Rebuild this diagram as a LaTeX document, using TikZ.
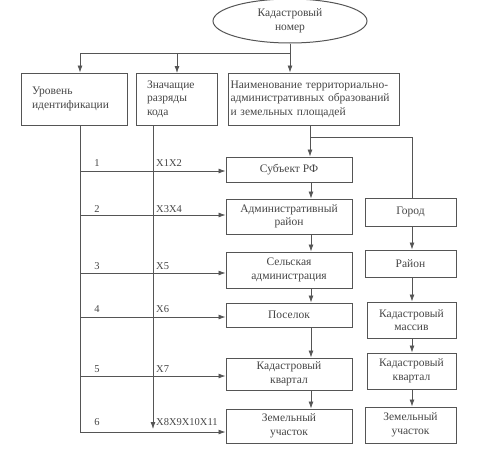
\documentclass[tikz,border=0pt]{standalone}
\usepackage{fontspec}
\setmainfont{Liberation Serif}
\usetikzlibrary{arrows.meta,shapes.geometric}
\definecolor{lc}{RGB}{85,85,85}
\definecolor{tc}{RGB}{70,70,70}
\begin{document}
\begin{tikzpicture}[x=1pt,y=-1pt,
  box/.style={draw=lc, line width=1pt, fill=white, text=tc, inner sep=0pt, align=center,
    font=\fontsize{11.5}{13.5}\selectfont},
  lbl/.style={text=tc, inner sep=0pt, font=\fontsize{10.5}{12}\selectfont},
  ln/.style={draw=lc, line width=0.8pt},
  conn/.style={draw=lc, line width=0.8pt, -{Latex[length=7pt,width=5pt]}}]
\useasboundingbox (0,0) rectangle (498,474);
% top
\node[box, ellipse, minimum width=154, minimum height=44] (kn) at (290,21) {Кадастровый\\номер};
\node[box, minimum width=106, minimum height=52, text width=84, align=left] (lvl) at (74,99) {Уровень\\идентификации};
\node[box, minimum width=81, minimum height=52, text width=59, align=left] (kd) at (176.5,99) {Значащие\\разряды\\кода};
\node[box, minimum width=171, minimum height=52, text width=166, align=left] (nm) at (313.5,99) {Наименование территориально-\\административных образований\\и земельных площадей};
% centre column
\node[box, minimum width=126, minimum height=25] (sub) at (289,169.5) {Субъект РФ};
\node[box, minimum width=126, minimum height=35] (adm) at (289,216.5) {Административный\\район};
\node[box, minimum width=126, minimum height=36] (sel) at (289,270) {Сельская\\администрация};
\node[box, minimum width=126, minimum height=24] (pos) at (289,315) {Поселок};
\node[box, minimum width=126, minimum height=32] (kk) at (289,374) {Кадастровый\\квартал};
\node[box, minimum width=126, minimum height=34] (zu) at (289,426) {Земельный\\участок};
% right column
\node[box, minimum width=91, minimum height=28] (gor) at (410.5,212) {Город};
\node[box, minimum width=91, minimum height=27] (ray) at (410.5,263.5) {Район};
\node[box, minimum width=89, minimum height=36] (km) at (411.5,320) {Кадастровый\\массив};
\node[box, minimum width=89, minimum height=36] (kk2) at (411.5,371) {Кадастровый\\квартал};
\node[box, minimum width=91, minimum height=36] (zu2) at (410.5,425) {Земельный\\участок};
% top connectors
\coordinate (j) at (290,53);
\coordinate (jl) at (80,53);
\draw[ln] (kn.south) -- (j) -- (jl);
\draw[conn] (jl) -- (jl |- lvl.north);
\draw[conn] (177,53) -- (177,73);
\draw[conn] (j) -- (j |- nm.north);
% name column
\coordinate (b) at (310,137);
\draw[ln] (b |- nm.south) -- (b) -- (412,137) -- (412,0 |- gor.north);
\draw[conn] (b) -- (b |- sub.north);
\draw[conn] (311,0 |- sub.south) -- (311,0 |- adm.north);
\draw[conn] (311,0 |- adm.south) -- (311,0 |- sel.north);
\draw[conn] (311,0 |- sel.south) -- (311,0 |- pos.north);
\draw[conn] (311,0 |- pos.south) -- (311,0 |- kk.north);
\draw[conn] (311,0 |- kk.south) -- (311,0 |- zu.north);
% right column arrows
\draw[conn] (412,0 |- gor.south) -- (412,0 |- ray.north);
\draw[conn] (412,0 |- ray.south) -- (412,0 |- km.north);
\draw[conn] (412,0 |- km.south) -- (412,0 |- kk2.north);
\draw[conn] (412,0 |- kk2.south) -- (412,0 |- zu2.north);
% level trunk
\coordinate (t) at (80,125);
\draw[conn] (t) -- (80,432) -- (zu.west |- 0,432);
\draw[conn] (80,171) -- (sub.west |- 0,171);
\draw[conn] (80,215) -- (adm.west |- 0,215);
\draw[conn] (80,273) -- (sel.west |- 0,273);
\draw[conn] (80,317) -- (pos.west |- 0,317);
\draw[conn] (80,376) -- (kk.west |- 0,376);
% code line
\draw[conn] (153,125) -- (153,429);
% labels
\node[lbl] (n1) at (97,163) {1};
\node[lbl] (n2) at (97,209) {2};
\node[lbl] (n3) at (97,266) {3};
\node[lbl] (n4) at (97,309) {4};
\node[lbl] (n5) at (97,369) {5};
\node[lbl] (n6) at (97,422) {6};
\node[lbl, anchor=west] (c1) at (156,163) {X1X2};
\node[lbl, anchor=west] (c2) at (156,209) {X3X4};
\node[lbl, anchor=west] (c3) at (156,266) {X5};
\node[lbl, anchor=west] (c4) at (156,309) {X6};
\node[lbl, anchor=west] (c5) at (156,369) {X7};
\node[lbl, anchor=west] (c6) at (156,422) {X8X9X10X11};
\end{tikzpicture}
\end{document}
